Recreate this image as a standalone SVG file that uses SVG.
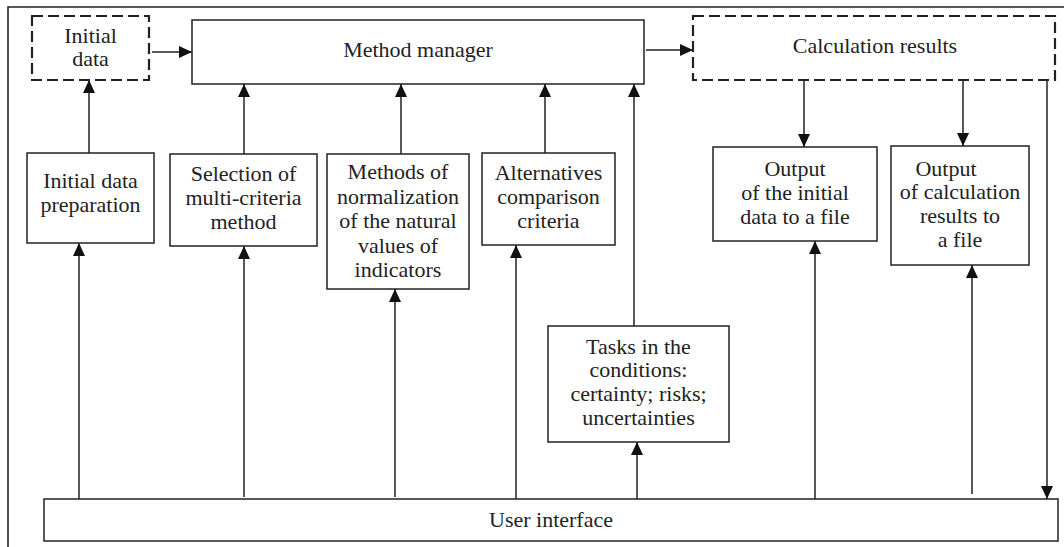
<svg xmlns="http://www.w3.org/2000/svg" width="1064" height="547" viewBox="0 0 1064 547">
<style>
.box{fill:#fff;stroke:#222;stroke-width:1.5}
.dash{fill:#fff;stroke:#222;stroke-width:2.2;stroke-dasharray:11 5}
.frame{fill:none;stroke:#222;stroke-width:1.6}
.ln{fill:none;stroke:#222;stroke-width:1.5}
text{font-family:"Liberation Serif","Times New Roman",serif;font-size:22px;fill:#222;text-anchor:middle}
</style>
<defs>
<marker id="ah" viewBox="0 0 13 12" refX="13" refY="6" markerWidth="13" markerHeight="12" markerUnits="userSpaceOnUse" orient="auto">
<path d="M0,0 L13,6 L0,12 Z" fill="#111"/>
</marker>
</defs>
<rect width="1064" height="547" fill="#fff"/>
<path class="frame" d="M8,547 V7 H1064"/>
<g id="connectors">
<line class="ln" x1="89" y1="153" x2="89" y2="80" marker-end="url(#ah)"/>
<line class="ln" x1="152" y1="52" x2="192" y2="52" marker-end="url(#ah)"/>
<line class="ln" x1="244" y1="154" x2="244" y2="84" marker-end="url(#ah)"/>
<line class="ln" x1="401" y1="154" x2="401" y2="84" marker-end="url(#ah)"/>
<line class="ln" x1="545" y1="153" x2="545" y2="84" marker-end="url(#ah)"/>
<line class="ln" x1="634" y1="326" x2="634" y2="84" marker-end="url(#ah)"/>
<line class="ln" x1="646" y1="50" x2="693" y2="50" marker-end="url(#ah)"/>
<line class="ln" x1="804" y1="80" x2="804" y2="147" marker-end="url(#ah)"/>
<line class="ln" x1="963" y1="80" x2="963" y2="146" marker-end="url(#ah)"/>
<line class="ln" x1="1047" y1="80" x2="1047" y2="499" marker-end="url(#ah)"/>
<line class="ln" x1="79" y1="499" x2="79" y2="243" marker-end="url(#ah)"/>
<line class="ln" x1="244" y1="497" x2="244" y2="246" marker-end="url(#ah)"/>
<line class="ln" x1="395" y1="497" x2="395" y2="289" marker-end="url(#ah)"/>
<line class="ln" x1="516" y1="499" x2="516" y2="245" marker-end="url(#ah)"/>
<line class="ln" x1="637" y1="499" x2="637" y2="442" marker-end="url(#ah)"/>
<line class="ln" x1="815" y1="499" x2="815" y2="241" marker-end="url(#ah)"/>
<line class="ln" x1="972" y1="494" x2="972" y2="265" marker-end="url(#ah)"/>
</g>
<g id="initial-data">
<rect class="dash" x="32" y="16" width="117" height="64"/>
<text x="90.5" y="43">Initial</text>
<text x="90.5" y="66">data</text>
</g>
<g id="method-manager">
<rect class="box" x="192" y="20" width="452" height="64"/>
<text x="418" y="57">Method manager</text>
</g>
<g id="calculation-results">
<rect class="dash" x="693" y="16" width="362" height="64"/>
<text x="875" y="53">Calculation results</text>
</g>
<g id="initial-data-preparation">
<rect class="box" x="27" y="153" width="127" height="90"/>
<text x="90.5" y="188">Initial data</text>
<text x="90.5" y="212">preparation</text>
</g>
<g id="selection">
<rect class="box" x="170" y="154" width="147" height="92"/>
<text x="243.5" y="181">Selection of</text>
<text x="243.5" y="205">multi-criteria</text>
<text x="243.5" y="229">method</text>
</g>
<g id="normalization">
<rect class="box" x="327" y="154" width="142" height="135"/>
<text x="398" y="179">Methods of</text>
<text x="398" y="204">normalization</text>
<text x="398" y="228">of the natural</text>
<text x="398" y="253">values of</text>
<text x="398" y="277">indicators</text>
</g>
<g id="alternatives">
<rect class="box" x="482" y="153" width="133" height="92"/>
<text x="548.5" y="180">Alternatives</text>
<text x="548.5" y="204">comparison</text>
<text x="548.5" y="228">criteria</text>
</g>
<g id="tasks">
<rect class="box" x="548" y="326" width="181" height="116"/>
<text x="638.5" y="354">Tasks in the</text>
<text x="638.5" y="377">conditions:</text>
<text x="638.5" y="401">certainty; risks;</text>
<text x="638.5" y="425">uncertainties</text>
</g>
<g id="output-initial">
<rect class="box" x="713" y="147" width="164" height="94"/>
<text x="795" y="176">Output</text>
<text x="795" y="200">of the initial</text>
<text x="795" y="224">data to a file</text>
</g>
<g id="output-results">
<rect class="box" x="891" y="146" width="138" height="119"/>
<text x="946" y="176">Output</text>
<text x="960" y="199">of calculation</text>
<text x="960" y="223">results to</text>
<text x="960" y="247">a file</text>
</g>
<g id="user-interface">
<rect class="box" x="44" y="499" width="1014" height="42"/>
<text x="551" y="527">User interface</text>
</g>
</svg>
